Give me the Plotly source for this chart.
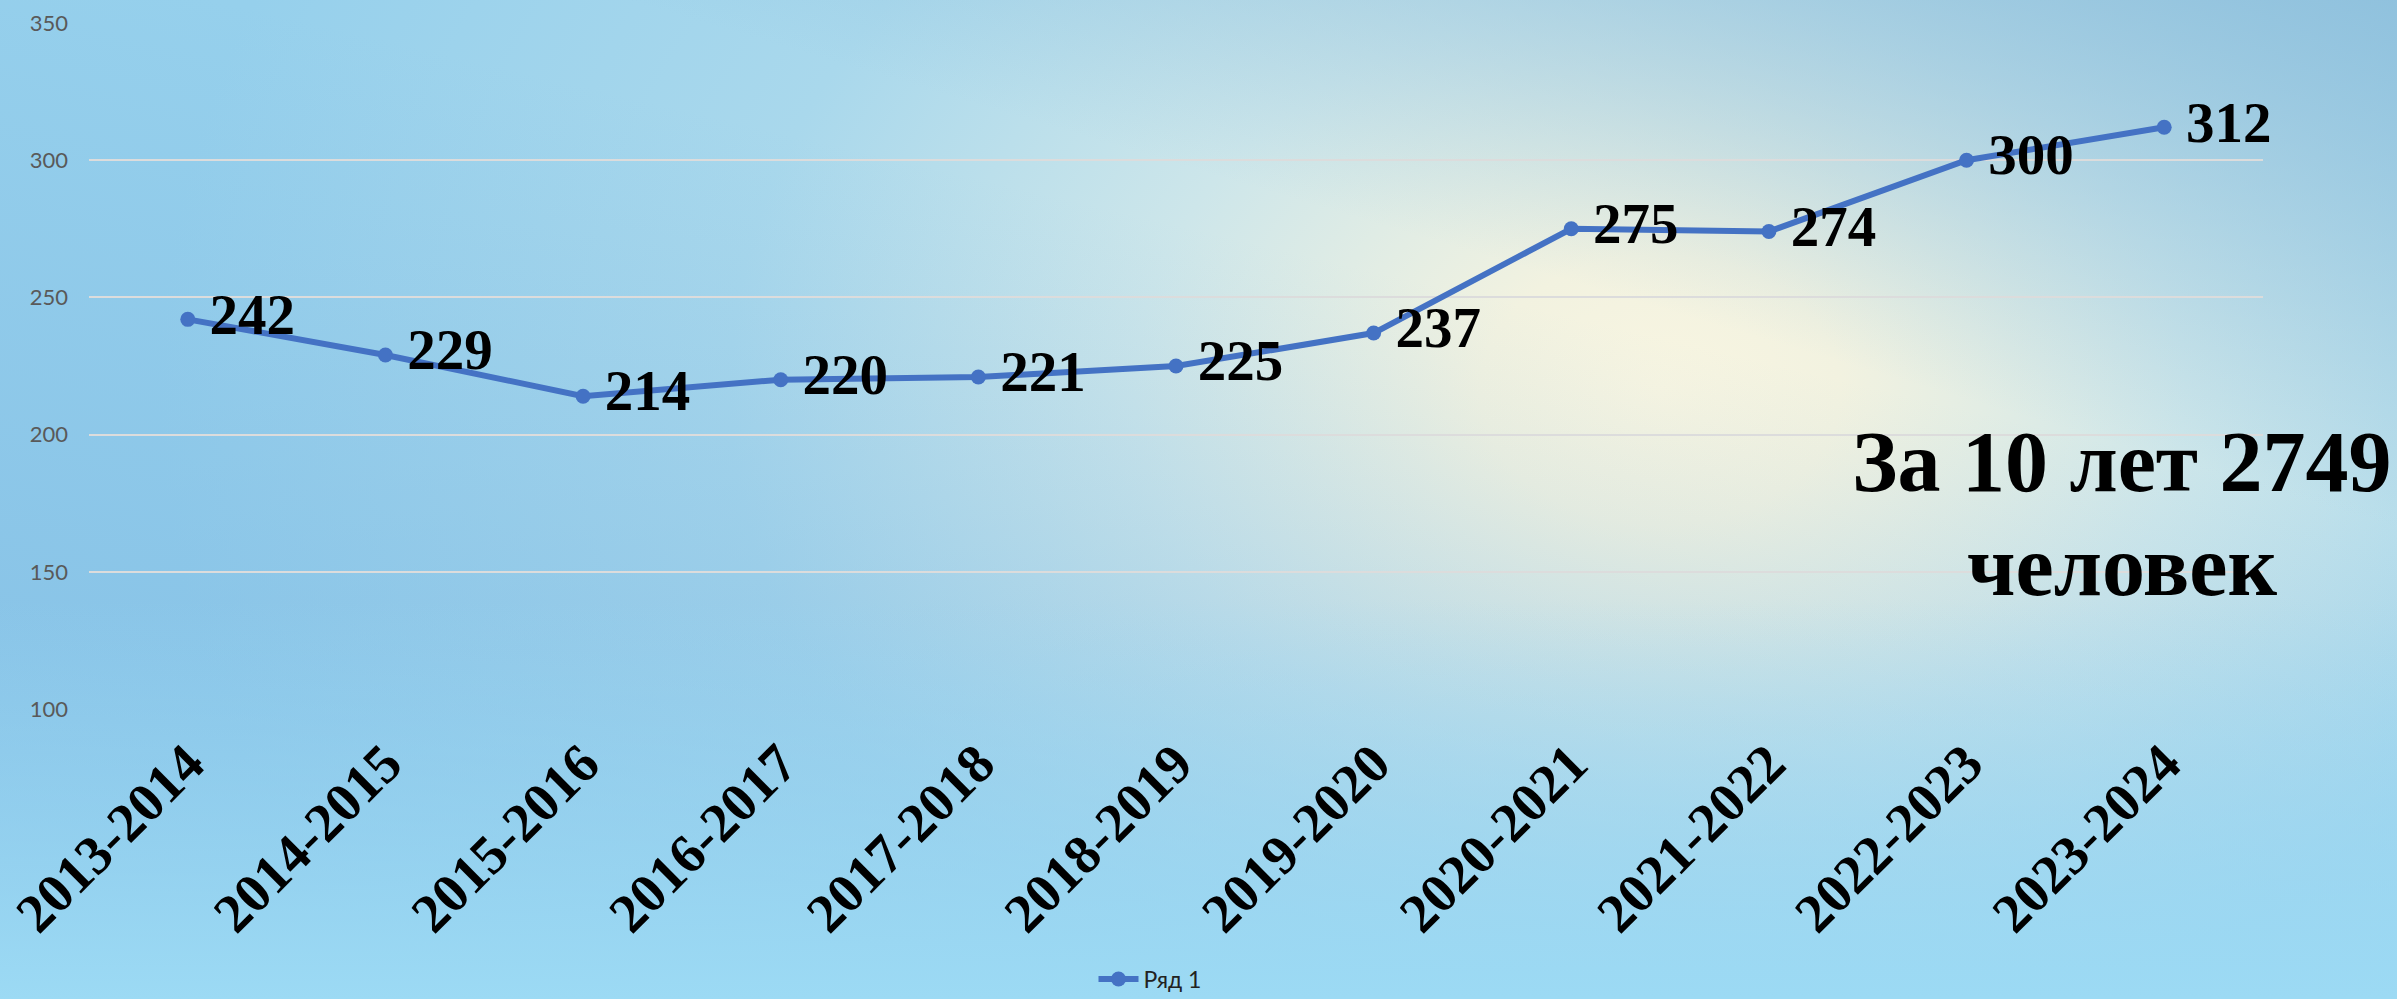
import base64
import plotly.graph_objects as go

# ---- data ----
categories = ["2013-2014", "2014-2015", "2015-2016", "2016-2017", "2017-2018", "2018-2019",
              "2019-2020", "2020-2021", "2021-2022", "2022-2023", "2023-2024"]
values = [242, 229, 214, 220, 221, 225, 237, 275, 274, 300, 312]
series_name = "Ряд 1"
y_ticks = [100, 150, 200, 250, 300, 350]
note_line1 = "За 10 лет 2749"
note_line2 = "человек"

W, H = 2397, 999
L, R, T, B = 89, 134, 23, 290
PW, PH = W - L - R, H - T - B

# ---- background gradient (SVG image) ----
svg = f'''<svg xmlns="http://www.w3.org/2000/svg" width="{W}" height="{H}" viewBox="0 0 {W} {H}" preserveAspectRatio="none">
<defs>
<radialGradient id="rg" gradientUnits="userSpaceOnUse" cx="1660" cy="390" r="1500" gradientTransform="translate(1660 390) scale(1 0.75) translate(-1660 -390)">
<stop offset="0" stop-color="#F8F5E1"/>
<stop offset="0.12" stop-color="#F2F2E0"/>
<stop offset="0.35" stop-color="#CDE6EA"/>
<stop offset="0.62" stop-color="#A9D8EC"/>
<stop offset="1" stop-color="#96D0EC"/>
</radialGradient>
<linearGradient id="lg" x1="0" y1="1" x2="0.45" y2="0.2">
<stop offset="0" stop-color="#7AB6E2" stop-opacity="0.7"/>
<stop offset="1" stop-color="#7AB6E2" stop-opacity="0"/>
</linearGradient>
<linearGradient id="tr" x1="1" y1="0" x2="0.75" y2="0.35">
<stop offset="0" stop-color="#8DBFDC" stop-opacity="0.9"/>
<stop offset="1" stop-color="#8DBFDC" stop-opacity="0"/>
</linearGradient>
<linearGradient id="br" x1="0.5" y1="1" x2="0.5" y2="0.6">
<stop offset="0" stop-color="#9CDAF4" stop-opacity="1"/>
<stop offset="1" stop-color="#9CDAF4" stop-opacity="0"/>
</linearGradient>
</defs>
<rect width="{W}" height="{H}" fill="url(#rg)"/>
<rect width="{W}" height="{H}" fill="url(#lg)"/>
<rect width="{W}" height="{H}" fill="url(#br)"/>
<rect width="{W}" height="{H}" fill="url(#tr)"/>
</svg>'''
bg_src = "data:image/svg+xml;base64," + base64.b64encode(svg.encode("utf-8")).decode("ascii")

serif_bold = dict(family="Liberation Serif, Times New Roman, serif", color="black", weight="bold")

fig = go.Figure()
fig.add_trace(go.Scatter(
    x=categories, y=values, name=series_name,
    mode="lines+markers+text",
    line=dict(color="#4472C4", width=6),
    marker=dict(color="#4472C4", size=15),
    text=["\u2009" + str(v) for v in values],
    textposition="middle right",
    textfont=dict(size=57, **serif_bold),
    cliponaxis=False,
    showlegend=True,
))

fig.add_annotation(text=note_line1, xref="paper", yref="paper",
                   x=(2122 - L) / PW, y=(H - B - 462) / PH,
                   xanchor="center", yanchor="middle", showarrow=False,
                   font=dict(size=86, **serif_bold))
fig.add_annotation(text=note_line2, xref="paper", yref="paper",
                   x=(2122 - L) / PW, y=(H - B - 566) / PH,
                   xanchor="center", yanchor="middle", showarrow=False,
                   font=dict(size=86, **serif_bold))

fig.add_layout_image(dict(
    source=bg_src, xref="paper", yref="paper",
    x=-L / PW, y=1 + T / PH, sizex=W / PW, sizey=H / PH,
    xanchor="left", yanchor="top", sizing="stretch", layer="below",
))

fig.update_layout(
    width=W, height=H,
    margin=dict(l=L, r=R, t=T, b=B, autoexpand=False),
    paper_bgcolor="#A8D4EA",
    plot_bgcolor="rgba(0,0,0,0)",
    xaxis=dict(
        type="category", range=[-0.5, len(categories) - 0.5],
        showgrid=False, zeroline=False, showline=False, ticks="",
        tickangle=-45, tickfont=dict(size=55, **serif_bold),
        ticklabelstandoff=10,
    ),
    yaxis=dict(
        range=[100, 350], tickvals=y_ticks, showgrid=True,
        gridcolor="#DCDCDC", gridwidth=2, zeroline=False, showline=False, ticks="",
        tickfont=dict(family="Lato, Open Sans, sans-serif", size=22, color="#595959"),
        ticklabelstandoff=20,
    ),
    legend=dict(orientation="h", x=(1150 - L) / PW, xanchor="center",
                y=(H - B - 979) / PH, yanchor="middle",
                font=dict(family="Lato, Open Sans, sans-serif", size=23, color="#222222"),
                bgcolor="rgba(0,0,0,0)", itemwidth=40),
)

fig.write_html("out.html")
